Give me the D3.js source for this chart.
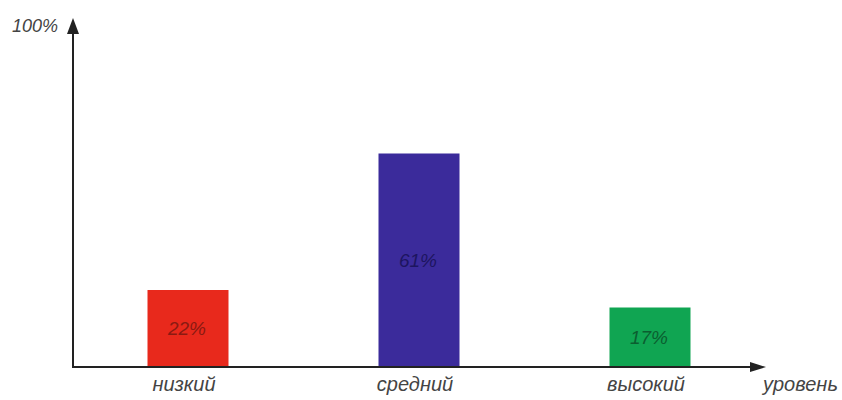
<!DOCTYPE html>
<html>
<head>
<meta charset="utf-8">
<script src="https://cdn.jsdelivr.net/npm/d3@7"></script>
<style>
  html, body { margin: 0; padding: 0; background: #fff; }
  svg { display: block; }
  text { font-family: "Liberation Sans", Arial, sans-serif; font-style: italic; }
</style>
</head>
<body>
<svg id="chart" width="842" height="400"></svg>
<script>
// Distribution of levels, percent
const categories = ["низкий", "средний", "высокий"];
const values = [22, 61, 17];
const barColors = ["#e8291c", "#3b2b9b", "#10a552"];
const labelColors = ["#8a1a12", "#1d1560", "#0b5e30"];
const yAxisTitle = "100%";
const xAxisTitle = "уровень";

const svg = d3.select("#chart");

const x = d3.scalePoint().domain(categories).range([188, 650]);
const y = d3.scaleLinear().domain([0, 100]).range([367, 17]);
const barWidth = 81;
const axisX = 73;

// Bars
svg.selectAll("rect.bar")
  .data(values)
  .join("rect")
  .attr("class", "bar")
  .attr("x", (d, i) => x(categories[i]) - barWidth / 2)
  .attr("y", d => y(d))
  .attr("width", barWidth)
  .attr("height", d => y(0) - y(d))
  .attr("fill", (d, i) => barColors[i]);

// Value labels inside bars
svg.selectAll("text.value")
  .data(values)
  .join("text")
  .attr("class", "value")
  .attr("x", (d, i) => x(categories[i]) - 1)
  .attr("y", d => (y(d) + y(0)) / 2)
  .attr("dy", "0.35em")
  .attr("text-anchor", "middle")
  .attr("font-size", 19)
  .attr("fill", (d, i) => labelColors[i])
  .text(d => d + "%");

// Axes with arrowheads
const axisColor = "#222";
svg.append("line")
  .attr("x1", axisX).attr("y1", y(0))
  .attr("x2", axisX).attr("y2", 30)
  .attr("stroke", axisColor).attr("stroke-width", 2);
svg.append("path")
  .attr("d", `M${axisX},18 L${axisX - 6},34 L${axisX + 6},34 Z`)
  .attr("fill", axisColor);

svg.append("line")
  .attr("x1", axisX - 1).attr("y1", y(0))
  .attr("x2", 755).attr("y2", y(0))
  .attr("stroke", axisColor).attr("stroke-width", 2);
svg.append("path")
  .attr("d", `M766,${y(0)} L750,${y(0) - 5} L750,${y(0) + 5} Z`)
  .attr("fill", axisColor);

// Category labels
svg.selectAll("text.cat")
  .data(categories)
  .join("text")
  .attr("class", "cat")
  .attr("x", d => x(d) - 4)
  .attr("y", 391)
  .attr("text-anchor", "middle")
  .attr("font-size", 20)
  .attr("fill", "#444")
  .text(d => d);

// Axis titles
svg.append("text")
  .attr("x", 12).attr("y", 32)
  .attr("font-size", 18)
  .attr("fill", "#444")
  .text(yAxisTitle);

svg.append("text")
  .attr("x", 763).attr("y", 391)
  .attr("font-size", 20)
  .attr("fill", "#444")
  .text(xAxisTitle);
</script>
</body>
</html>
